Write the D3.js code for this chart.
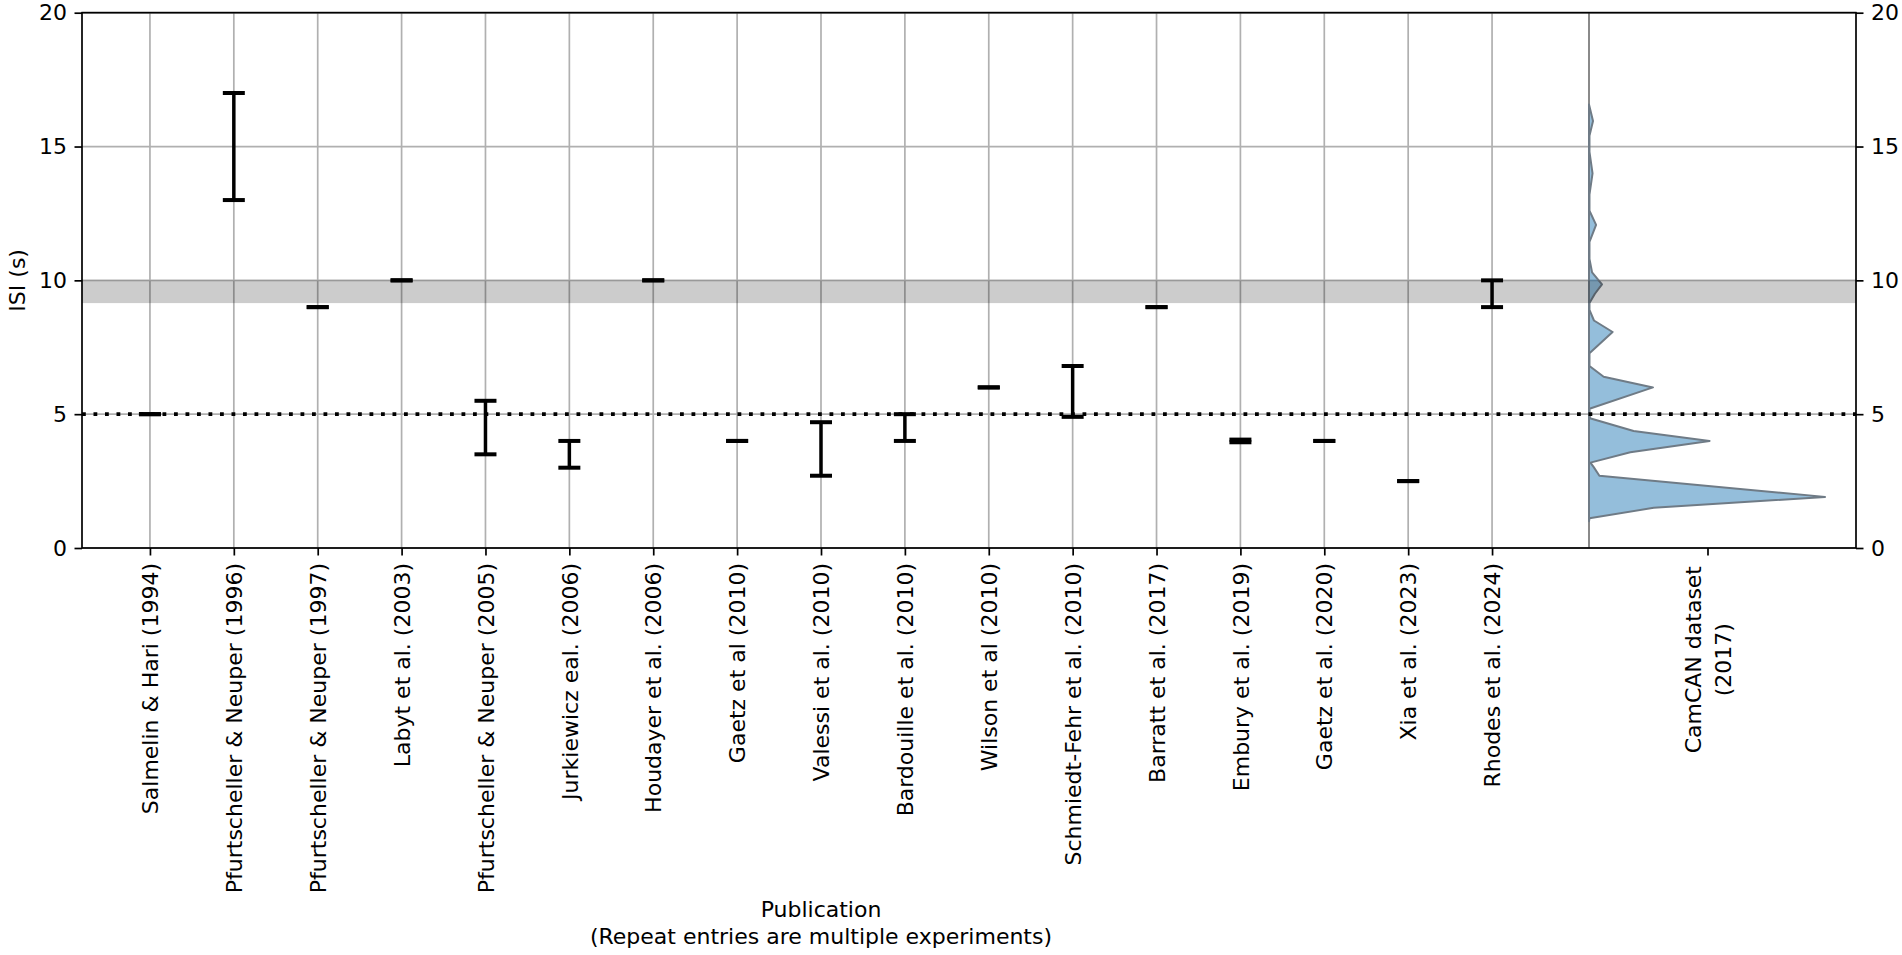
<!DOCTYPE html>
<html>
<head>
<meta charset="utf-8">
<script src="https://cdn.jsdelivr.net/npm/d3@7"></script>
<style>
  body { margin: 0; background: #fff; }
  text { font-family: "DejaVu Sans", sans-serif; fill: #000; }
</style>
</head>
<body>
<div id="chart"></div>
<script>

// Publications and the ISI range (s) each one used
var publications = [
    "Salmelin & Hari (1994)", "Pfurtscheller & Neuper (1996)", "Pfurtscheller & Neuper (1997)",
    "Labyt et al. (2003)", "Pfurtscheller & Neuper (2005)", "Jurkiewicz eal. (2006)",
    "Houdayer et al. (2006)", "Gaetz et al (2010)", "Valessi et al. (2010)",
    "Bardouille et al. (2010)", "Wilson et al (2010)", "Schmiedt-Fehr et al. (2010)",
    "Barratt et al. (2017)", "Embury et al. (2019)", "Gaetz et al. (2020)",
    "Xia et al. (2023)", "Rhodes et al. (2024)"
];
var isiLow  = [5, 13, 9, 10, 3.5, 3, 10, 4, 2.7, 4, 6, 4.9, 9, 3.95, 4, 2.5, 9];
var isiHigh = [5, 17, 9, 10, 5.5, 4, 10, 4, 4.7, 5, 6, 6.8, 9, 4.05, 4, 2.5, 10];

// CamCAN ISI distribution (half violin), density relative to the peak
var camcanIsi = [1.0, 1.11, 1.5, 1.91, 2.7, 3.02, 3.19, 3.58, 4.0, 4.37, 4.85, 5.2, 6.0, 6.4,
    6.8, 7.28, 8.07, 8.5, 8.9, 9.15, 9.5, 9.85, 10.3, 10.8, 11.44, 12.07, 12.6, 13.2, 14.0,
    14.8, 15.4, 15.95, 16.57];
var camcanDensity = [0, 0.002, 0.274, 1.0, 0.044, 0.02, 0.006, 0.175, 0.511, 0.189, 0.004,
    0.002, 0.271, 0.062, 0.002, 0.002, 0.1, 0.021, 0.002, 0.002, 0.025, 0.055, 0.013, 0.002,
    0.002, 0.03, 0.002, 0.002, 0.015, 0.002, 0.002, 0.017, 0];
var camcanLabel = ["CamCAN dataset", "(2017)"];

// reference line and shaded band
var refIsi = 5;
var bandIsi = [9.15, 10];

var yTicks = [0, 5, 10, 15, 20];
var xLabel = ["Publication", "(Repeat entries are multiple experiments)"];
var yLabel = "ISI (s)";

var W = 1902, H = 955;
var plotL = 82, plotR = 1856, plotSplit = 1560, plotT = 12.7, plotB = 548;
var fontSize = 22, tickLen = 7.5, tickPad = 7.5;

var svg = d3.select("#chart").append("svg")
    .attr("width", W)
    .attr("height", H)
    .style("background", "#fff");

// Scales
var y = d3.scaleLinear().domain([0, 20]).range([plotB, plotT]);
var x = d3.scaleLinear().domain([-0.81, 16.81]).range([plotL, plotSplit]);
var xCam = d3.scaleLinear().domain([0, 1]).range([plotSplit, plotR]);
var xDens = d3.scaleLinear().domain([0, 1]).range([1589, 1825]);

// grid
svg.append("g").selectAll("line")
    .data(yTicks).enter().append("line")
    .attr("x1", plotL).attr("x2", plotR)
    .attr("y1", function(d) { return y(d); })
    .attr("y2", function(d) { return y(d); })
    .attr("stroke", "#b0b0b0").attr("stroke-width", 1.7);

svg.append("g").selectAll("line")
    .data(publications).enter().append("line")
    .attr("x1", function(d, i) { return x(i); })
    .attr("x2", function(d, i) { return x(i); })
    .attr("y1", plotT).attr("y2", plotB)
    .attr("stroke", "#b0b0b0").attr("stroke-width", 1.7);

// violin base line
svg.append("line")
    .attr("x1", xDens(0)).attr("x2", xDens(0))
    .attr("y1", plotT).attr("y2", plotB)
    .attr("stroke", "#8a8a8a").attr("stroke-width", 2);

// CamCAN half violin
var area = d3.area()
    .y(function(d, i) { return y(camcanIsi[i]); })
    .x0(xDens(0))
    .x1(function(d) { return xDens(d); });

svg.append("path")
    .datum(camcanDensity)
    .attr("d", area)
    .attr("fill", "#1f77b4")
    .attr("fill-opacity", 0.48)
    .attr("stroke", "#6f7b86")
    .attr("stroke-width", 2)
    .attr("stroke-linejoin", "round");

// shaded band
svg.append("rect")
    .attr("x", plotL)
    .attr("width", plotR - plotL)
    .attr("y", y(bandIsi[1]))
    .attr("height", y(bandIsi[0]) - y(bandIsi[1]))
    .attr("fill", "#000")
    .attr("fill-opacity", 0.2);

// reference line at 5 s
svg.append("line")
    .attr("x1", plotL).attr("x2", plotR)
    .attr("y1", y(refIsi)).attr("y2", y(refIsi))
    .attr("stroke", "#000")
    .attr("stroke-width", 3.8)
    .attr("stroke-dasharray", "3.8,7.7");

// error bars
var bars = svg.append("g").selectAll("g")
    .data(publications).enter().append("g");

bars.append("line")
    .attr("x1", function(d, i) { return x(i); })
    .attr("x2", function(d, i) { return x(i); })
    .attr("y1", function(d, i) { return y(isiLow[i]); })
    .attr("y2", function(d, i) { return y(isiHigh[i]); })
    .attr("stroke", "#000").attr("stroke-width", 3.5);

[isiLow, isiHigh].forEach(function(vals) {
    bars.append("line")
        .attr("x1", function(d, i) { return x(i) - 11; })
        .attr("x2", function(d, i) { return x(i) + 11; })
        .attr("y1", function(d, i) { return y(vals[i]); })
        .attr("y2", function(d, i) { return y(vals[i]); })
        .attr("stroke", "#000").attr("stroke-width", 4);
});

// spines
svg.append("rect")
    .attr("x", plotL).attr("y", plotT)
    .attr("width", plotR - plotL).attr("height", plotB - plotT)
    .attr("fill", "none")
    .attr("stroke", "#000").attr("stroke-width", 1.7);

// y axes, left and right
var yAxisL = d3.axisLeft(y).tickValues(yTicks).tickSize(tickLen).tickPadding(tickPad);
var yAxisR = d3.axisRight(y).tickValues(yTicks).tickSize(tickLen).tickPadding(tickPad);

[[yAxisL, plotL], [yAxisR, plotR]].forEach(function(a) {
    var g = svg.append("g")
        .attr("transform", "translate(" + a[1] + ",0)")
        .call(a[0]);
    g.select(".domain").remove();
    g.selectAll("line").attr("stroke", "#000").attr("stroke-width", 1.7);
    g.selectAll("text")
        .style("font-family", "DejaVu Sans")
        .style("font-size", fontSize + "px")
        .attr("fill", "#000");
});

// x axis, publications
var xAxis = d3.axisBottom(x)
    .tickValues(d3.range(publications.length))
    .tickFormat(function(i) { return publications[i]; })
    .tickSize(tickLen);

var xg = svg.append("g")
    .attr("transform", "translate(0," + plotB + ")")
    .call(xAxis);
xg.select(".domain").remove();
xg.selectAll("line").attr("stroke", "#000").attr("stroke-width", 1.7);
xg.selectAll("text")
    .style("font-family", "DejaVu Sans")
    .style("font-size", fontSize + "px")
    .attr("fill", "#000")
    .attr("text-anchor", "end")
    .attr("transform", "translate(0," + (tickLen + tickPad) + ") rotate(-90)")
    .attr("x", 0).attr("y", 0)
    .attr("dy", "0.35em");

// CamCAN tick and two-line label
var camX = xCam(0.5);
svg.append("line")
    .attr("x1", camX).attr("x2", camX)
    .attr("y1", plotB).attr("y2", plotB + tickLen)
    .attr("stroke", "#000").attr("stroke-width", 1.7);

var camG = svg.append("g")
    .attr("transform", "translate(" + camX + "," + (plotB + tickLen + tickPad + 3) + ") rotate(-90)");
var line1 = camG.append("text")
    .attr("text-anchor", "end")
    .attr("y", -15).attr("dy", "0.35em")
    .style("font-size", fontSize + "px")
    .text(camcanLabel[0]);
var len1 = line1.node().getComputedTextLength();
camG.append("text")
    .attr("text-anchor", "middle")
    .attr("x", -len1 / 2)
    .attr("y", 15).attr("dy", "0.35em")
    .style("font-size", fontSize + "px")
    .text(camcanLabel[1]);

// axis labels
svg.append("text")
    .attr("transform", "translate(17," + ((plotT + plotB) / 2) + ") rotate(-90)")
    .attr("text-anchor", "middle")
    .attr("dy", "0.35em")
    .style("font-size", fontSize + "px")
    .text(yLabel);

svg.selectAll("text.xlab")
    .data(xLabel).enter().append("text")
    .attr("class", "xlab")
    .attr("x", (plotL + plotSplit) / 2)
    .attr("y", function(d, i) { return 917 + i * 27; })
    .attr("text-anchor", "middle")
    .style("font-size", fontSize + "px")
    .text(function(d) { return d; });

</script>
</body>
</html>
